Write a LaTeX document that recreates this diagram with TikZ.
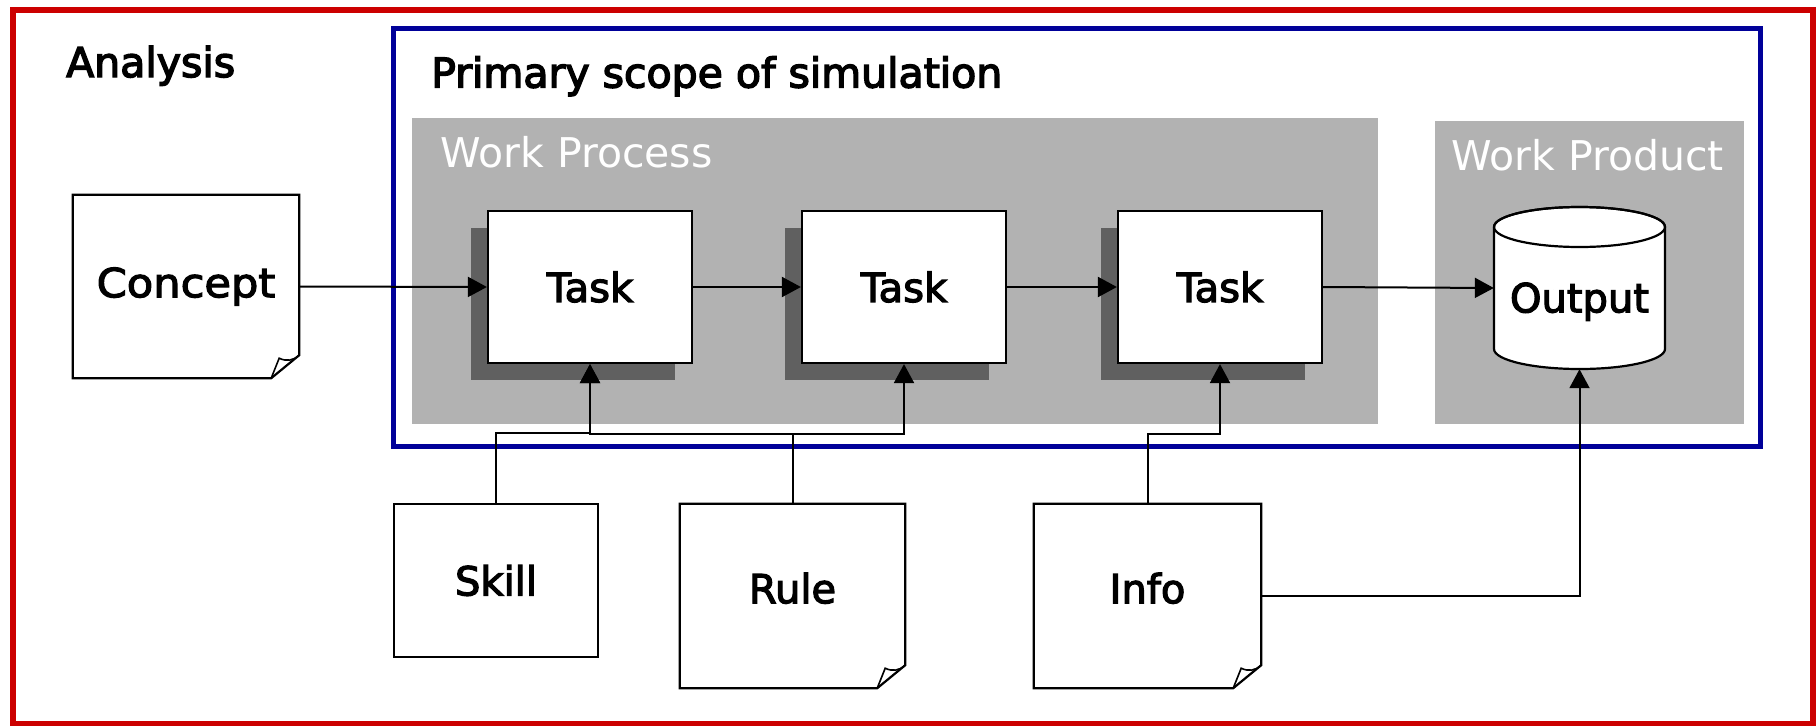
\documentclass[tikz,border=0pt]{standalone}
\usepackage{fontspec}
\setmainfont{DejaVu Sans}
\newfontfamily\headfont[FakeBold=3.5]{DejaVu Sans}
\newfontfamily\lblfont[FakeBold=3]{DejaVu Sans}
\usetikzlibrary{arrows.meta,shadows}
\definecolor{framered}{RGB}{204,0,0}
\definecolor{frameblue}{RGB}{0,0,153}
\definecolor{panelgray}{RGB}{178,178,178}
\definecolor{shadowgray}{RGB}{96,96,96}
\tikzset{
  headtext/.style={font=\headfont\fontsize{41}{48}\selectfont, anchor=base west, inner sep=0pt},
  paneltext/.style={font=\fontsize{41}{48}\selectfont, text=white, anchor=base west, inner sep=0pt},
  lbl/.style={font=\lblfont\fontsize{40}{48}\selectfont, inner sep=0pt},
  taskbox/.style={lbl, draw, line width=2.2pt, fill=white, minimum width=204pt, minimum height=152pt,
    drop shadow={shadow xshift=-17pt, shadow yshift=-17pt, fill=shadowgray, opacity=1}},
  notebox/.style={lbl, minimum width=226pt, minimum height=184pt},
  outline/.style={line width=2.2pt, line join=miter},
  conn/.style={line width=2pt, -{Triangle[length=19pt,width=20pt]}},
}
\newcommand{\drawnotefold}[1]{%
  \draw[outline] (#1.north west) -- (#1.north east) -- ([yshift=23pt]#1.south east)
     -- ([xshift=-28pt]#1.south east) -- (#1.south west) -- cycle;
  \draw[line width=1.6pt] ([xshift=-28pt]#1.south east) -- ([xshift=-20pt,yshift=20pt]#1.south east)
     to[bend right=35] ([yshift=23pt]#1.south east);}
\begin{document}
\begin{tikzpicture}[x=1pt,y=-1pt]
\useasboundingbox (0,0) rectangle (1820,726);
% frames
\draw[framered, line width=5.5pt] (12.8,10) rectangle (1813,723.5);
\draw[frameblue, line width=5pt] (393,28.5) rectangle (1760,446.5);
% panels
\fill[panelgray] (412,118) rectangle (1378,424);
\fill[panelgray] (1435,121) rectangle (1744,424);
% titles
\node[headtext] (analysis) at (66,77) {Analysis};
\node[headtext] (scope) at (431,87.5) {Primary scope of simulation};
\node[paneltext] (wproc) at (440,167) {Work Process};
\node[paneltext] (wprod) at (1451,170) {Work Product};
% tasks
\node[taskbox] (task1) at (590,287) {Task};
\node[taskbox] (task2) at (904,287) {Task};
\node[taskbox] (task3) at (1220,287) {Task};
% output cylinder
\filldraw[outline, fill=white] (1494,227) -- (1494,349)
  arc[start angle=180, end angle=0, x radius=85.5, y radius=20] -- (1665,227)
  arc[start angle=0, end angle=-180, x radius=85.5, y radius=20] -- cycle;
\draw[outline] (1579.5,227) ellipse [x radius=85.5, y radius=20];
\node[lbl, minimum width=171pt, minimum height=162pt, text height=57pt] (output) at (1579.5,288) {Output};
% notes and boxes
\node[notebox, minimum height=183pt] (concept) at (186,286.5) {\addfontfeature{FakeStretch=1.08}Concept};
\drawnotefold{concept}
\node[notebox, minimum width=225pt, text depth=16pt] (rule) at (792.5,596) {Rule};
\drawnotefold{rule}
\node[notebox, minimum width=227pt, text depth=16pt] (info) at (1147.5,596) {Info};
\drawnotefold{info}
\node[lbl, draw, line width=2.2pt, minimum width=204pt, minimum height=153pt] (skill) at (496,580.5) {Skill};
% connectors
\draw[conn] (concept.east) -- (task1.west);
\draw[conn] (task1.east) -- (task2.west);
\draw[conn] (task2.east) -- (task3.west);
\draw[conn] (task3.east) -- (output.west);
\draw[conn] (skill.north) -- ++(0,-70) -| (task1.south);
\draw[conn] (rule.north) -- ++(0,-70) -| (task1.south);
\draw[conn] (rule.north) -- ++(0,-70) -| (task2.south);
\draw[conn] (info.north) -- ++(0,-70) -| (task3.south);
\draw[conn] (info.east) -| (output.south);
\end{tikzpicture}
\end{document}
